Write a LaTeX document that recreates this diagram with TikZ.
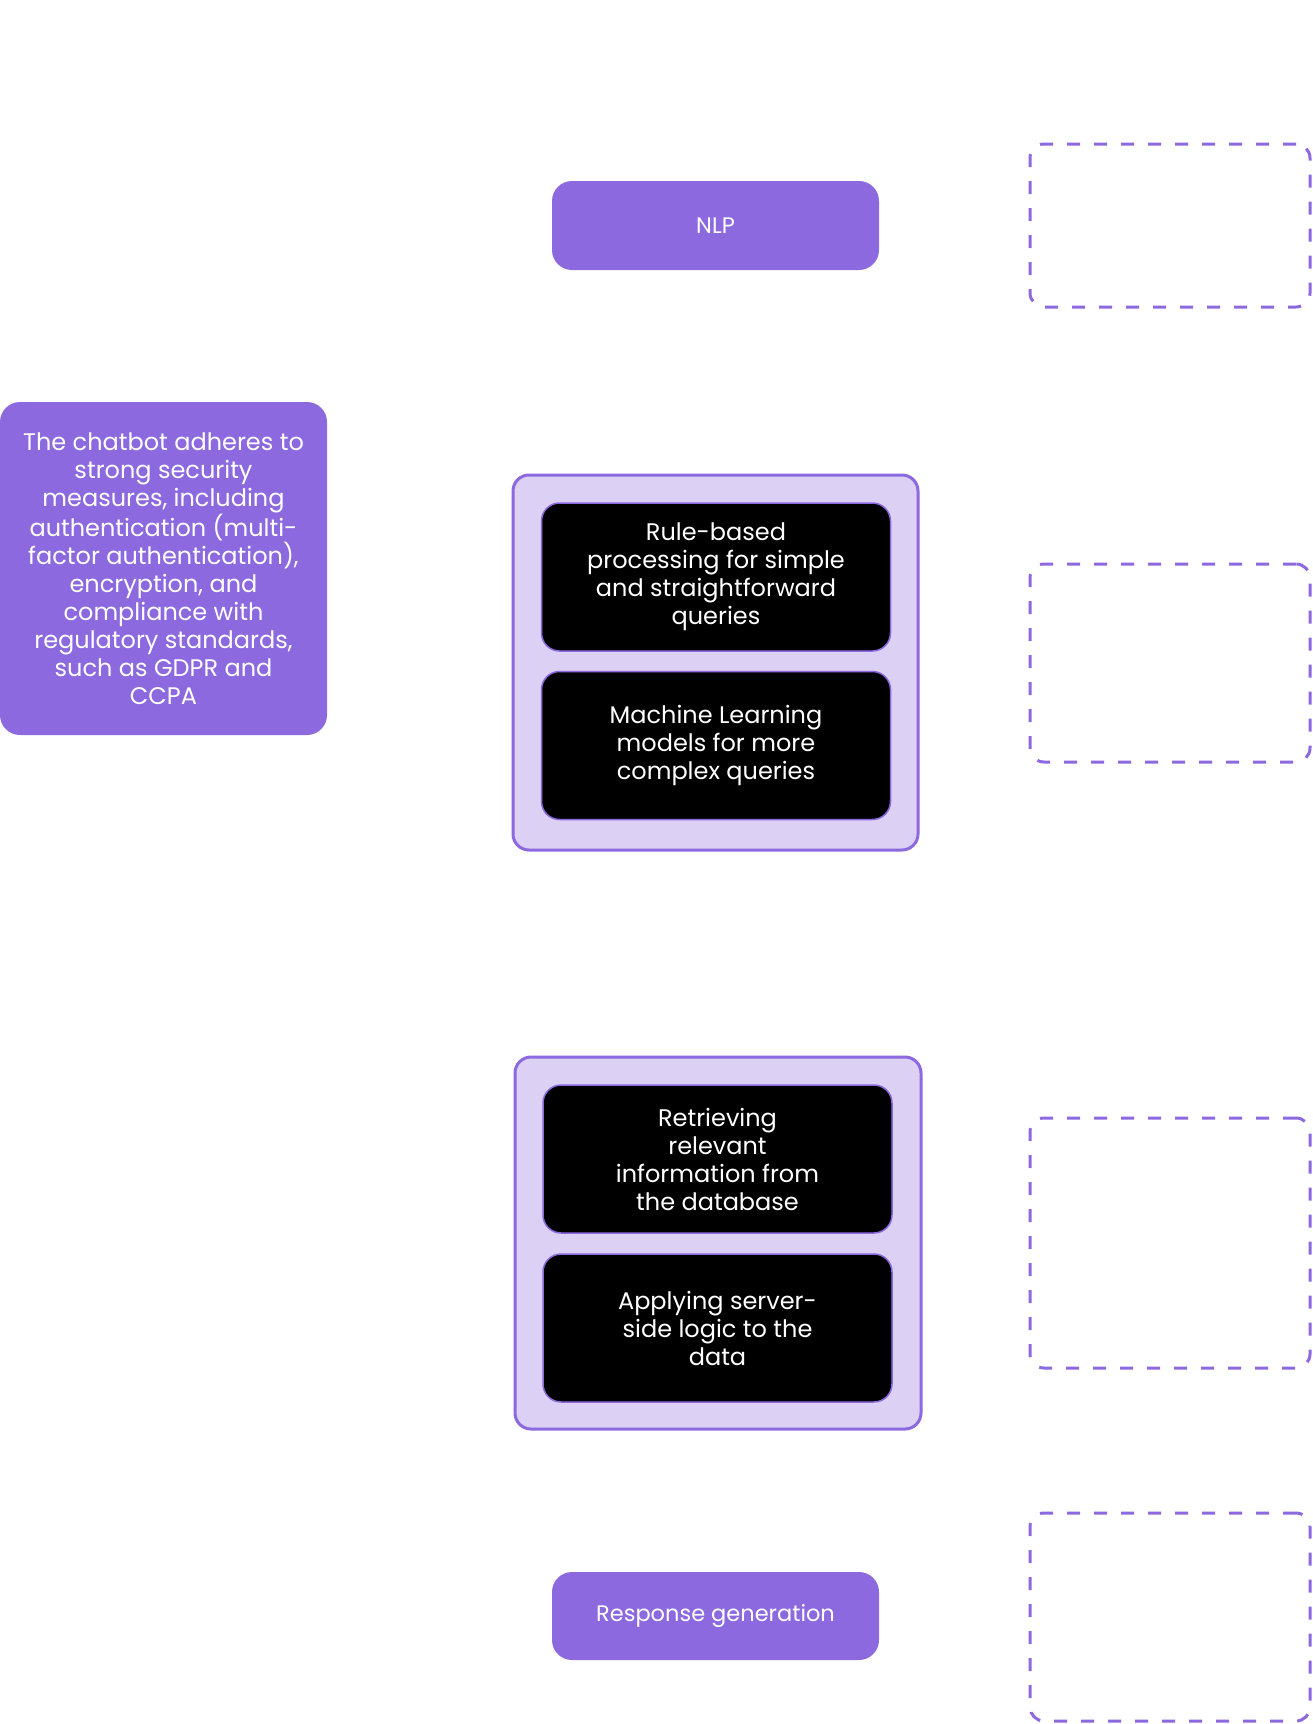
\documentclass[tikz,border=0pt]{standalone}
\usepackage{fontspec}
\setmainfont{Poppins}
\usepackage{xcolor}
\usepackage{tikz}
\usetikzlibrary{positioning}

\definecolor{violet}{HTML}{8C69DF}
\definecolor{lilac}{HTML}{DCD0F4}

\begin{document}
\begin{tikzpicture}[
  x=1pt, y=-1pt,
  pill/.style={rectangle, fill=violet, rounded corners=20pt, text=white, align=center, font=\fontsize{22.5}{28}\selectfont},
  group/.style={rectangle, draw=violet, line width=3pt, fill=lilac, rounded corners=16pt},
  task/.style={rectangle, draw=violet, line width=1.5pt, fill=black, rounded corners=18pt, text=white, align=center, minimum width=349pt, minimum height=148pt, font=\fontsize{24}{28}\selectfont},
  slot/.style={rectangle, draw=violet, line width=3pt, dash pattern=on 13pt off 14pt, rounded corners=14pt, minimum width=280pt}
]
\useasboundingbox (0,0) rectangle (1312,1724);

% Security note
\node[pill, font=\fontsize{24}{28}\selectfont, minimum width=327pt, minimum height=333pt] (sec) at (163.5,568.5) {The chatbot adheres to\\strong security\\measures, including\\authentication (multi-\\factor authentication),\\encryption, and\\compliance with\\regulatory standards,\\such as GDPR and\\CCPA};

% Pipeline
\node[pill, minimum width=327pt, minimum height=89pt] (nlp) at (715.5,225.5) {NLP};

\node[group, minimum width=405pt, minimum height=375pt] (proc) at (715.5,662.5) {};
\node[task] (rule) at (716,577) {Rule-based\\processing for simple\\and straightforward\\queries};
\node[task] (ml) at (716,745.5) {Machine Learning\\models for more\\complex queries};

\node[group, minimum width=406pt, minimum height=372pt] (data) at (718,1243) {};
\node[task] (retr) at (717.5,1159) {Retrieving\\relevant\\information from\\the database};
\node[task] (logic) at (717.5,1328) {Applying server-\\side logic to the\\data};

\node[pill, minimum width=327pt, minimum height=88pt] (resp) at (715.5,1616) {Response generation};

% Empty slots
\node[slot, minimum height=163pt] (s1) at (1170,225.5) {};
\node[slot, minimum height=198pt] (s2) at (1170,663) {};
\node[slot, minimum height=250pt] (s3) at (1170,1243) {};
\node[slot, minimum height=208pt] (s4) at (1170,1617) {};

\end{tikzpicture}
\end{document}
